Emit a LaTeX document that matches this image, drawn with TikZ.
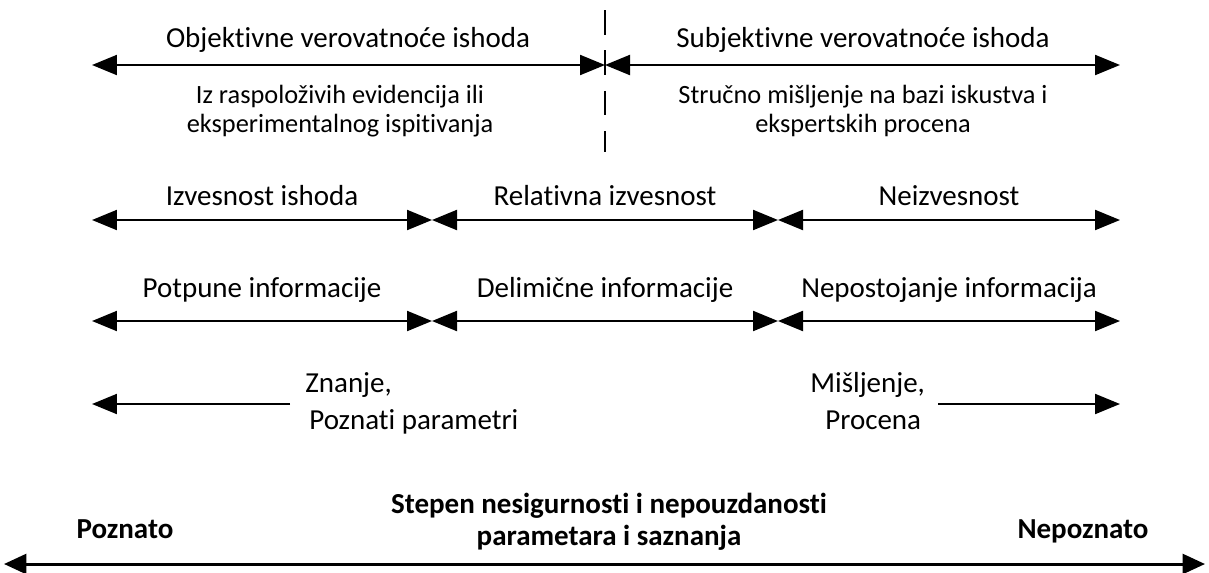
\documentclass[tikz,border=0pt]{standalone}
\usepackage{fontspec}
\setmainfont{Carlito}[Ligatures={NoCommon}]
\usetikzlibrary{arrows.meta}

\tikzset{
  span/.style={line width=1.2pt,{Triangle[length=0.5cm,width=0.4cm]}-{Triangle[length=0.5cm,width=0.4cm]}},
  tip/.style={line width=1.2pt,-{Triangle[length=0.5cm,width=0.4cm]}},
  lbl/.style={font=\fontsize{16.5}{19}\selectfont},
  sub/.style={font=\fontsize{15}{16.5}\selectfont,align=center},
  bold/.style={font=\fontsize{16.5}{18}\selectfont\bfseries,align=center}
}

\begin{document}
\begin{tikzpicture}[x=0.02cm,y=-0.02cm]
\useasboundingbox (0,0) rectangle (1209,572);

\draw[line width=1.2pt,dash pattern=on 14pt off 9pt] (605,10) -- (605,152);

\coordinate (a0) at (92,65);
\coordinate (a1) at (605,65);
\coordinate (a2) at (1120,65);
\draw[span] (a0) -- (a1);
\draw[span] (a1) -- (a2);
\node[lbl] (obj) at (348,40) {Objektivne verovatnoće ishoda};
\node[lbl] (subj) at (863,40) {Subjektivne verovatnoće ishoda};
\node[sub] (evid) at (340,111) {Iz raspoloživih evidencija ili\\eksperimentalnog ispitivanja};
\node[sub] (strucno) at (863,111) {Stručno mišljenje na bazi iskustva i\\ekspertskih procena};

\coordinate (b0) at (92,220);
\coordinate (b1) at (432,220);
\coordinate (b2) at (778,220);
\coordinate (b3) at (1120,220);
\draw[span] (b0) -- (b1);
\draw[span] (b1) -- (b2);
\draw[span] (b2) -- (b3);
\node[lbl] (izv) at (262,196) {Izvesnost ishoda};
\node[lbl] (rel) at (605,196) {Relativna izvesnost};
\node[lbl] (neizv) at (949,196) {Neizvesnost};

\coordinate (c0) at (92,321);
\coordinate (c1) at (432,321);
\coordinate (c2) at (778,321);
\coordinate (c3) at (1120,321);
\draw[span] (c0) -- (c1);
\draw[span] (c1) -- (c2);
\draw[span] (c2) -- (c3);
\node[lbl] (potp) at (262,290) {Potpune informacije};
\node[lbl] (delim) at (605,290) {Delimične informacije};
\node[lbl] (nepost) at (949,290) {Nepostojanje informacija};

\coordinate (d0) at (92,404);
\coordinate (d1) at (290,404);
\coordinate (d2) at (938,404);
\coordinate (d3) at (1120,404);
\draw[tip] (d1) -- (d0);
\draw[tip] (d2) -- (d3);
\node[lbl,anchor=base west,inner sep=0pt] (znanje) at (305,392) {Znanje,};
\node[lbl,anchor=base west,inner sep=0pt] (pozpar) at (309,429) {Poznati parametri};
\node[lbl,anchor=base west,inner sep=0pt] (misl) at (810,392) {Mišljenje,};
\node[lbl,anchor=base west,inner sep=0pt] (proc) at (825,429) {Procena};

\node[bold] (stepen) at (609,522) {Stepen nesigurnosti i nepouzdanosti\\parametara i saznanja};
\node[bold,anchor=base] (poz) at (125,538) {Poznato};
\node[bold,anchor=base] (nepoz) at (1083,538) {Nepoznato};
\coordinate (e0) at (4,564);
\coordinate (e1) at (1205,564);
\draw[line width=1.7pt,{Triangle[length=0.45cm,width=0.4cm]}-{Triangle[length=0.45cm,width=0.4cm]}] (e0) -- (e1);
\end{tikzpicture}
\end{document}
